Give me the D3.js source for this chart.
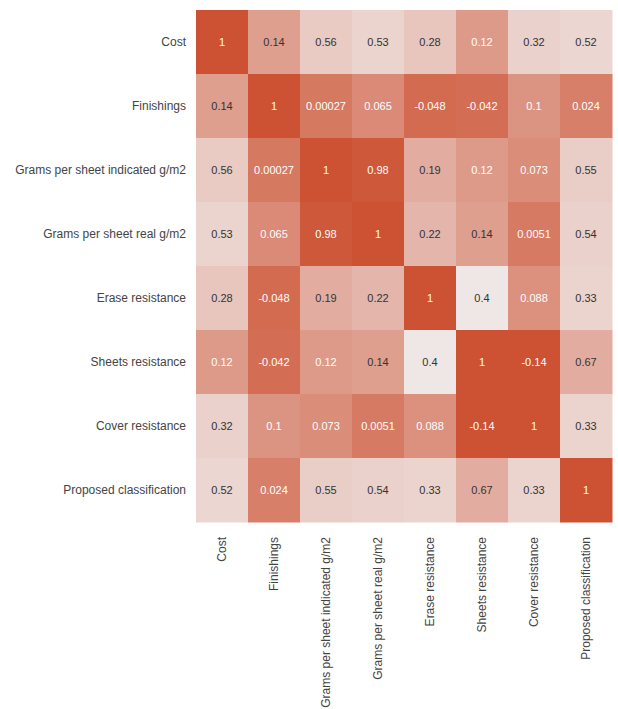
<!DOCTYPE html>
<html>
<head>
<meta charset="utf-8">
<script src="https://cdn.jsdelivr.net/npm/d3@7"></script>
<style>
  html, body { margin: 0; padding: 0; background: #ffffff; }
  svg { display: block; }
  text { font-family: "Liberation Sans", Arial, sans-serif; }
</style>
</head>
<body>
<svg id="chart" width="618" height="709"></svg>
<script>
// ---- data ----
const categories = [
  "Cost",
  "Finishings",
  "Grams per sheet indicated g/m2",
  "Grams per sheet real g/m2",
  "Erase resistance",
  "Sheets resistance",
  "Cover resistance",
  "Proposed classification"
];
const rowCost        = [1, 0.14, 0.56, 0.53, 0.28, 0.12, 0.32, 0.52];
const rowFinishings  = [0.14, 1, 0.00027, 0.065, -0.048, -0.042, 0.1, 0.024];
const rowGramsInd    = [0.56, 0.00027, 1, 0.98, 0.19, 0.12, 0.073, 0.55];
const rowGramsReal   = [0.53, 0.065, 0.98, 1, 0.22, 0.14, 0.0051, 0.54];
const rowErase       = [0.28, -0.048, 0.19, 0.22, 1, 0.4, 0.088, 0.33];
const rowSheets      = [0.12, -0.042, 0.12, 0.14, 0.4, 1, -0.14, 0.67];
const rowCover       = [0.32, 0.1, 0.073, 0.0051, 0.088, -0.14, 1, 0.33];
const rowProposed    = [0.52, 0.024, 0.55, 0.54, 0.33, 0.67, 0.33, 1];
const matrix = [rowCost, rowFinishings, rowGramsInd, rowGramsReal, rowErase, rowSheets, rowCover, rowProposed];

// ---- layout ----
const margin = { left: 196, top: 10, right: 6, bottom: 187 };
const W = 618, H = 709;
const innerW = W - margin.left - margin.right;
const innerH = H - margin.top - margin.bottom;

const svg = d3.select("#chart");
const g = svg.append("g").attr("transform", `translate(${margin.left},${margin.top})`);

const x = d3.scaleBand().domain(categories).range([0, innerW]).padding(0);
const y = d3.scaleBand().domain(categories).range([0, innerH]).padding(0);

const flat = [];
matrix.forEach((row, i) => row.forEach((v, j) => flat.push({ r: categories[i], c: categories[j], v })));

const vmin = d3.min(flat, d => d.v), vmax = d3.max(flat, d => d.v);
const center = (vmin + vmax) / 2;
const dark = "#cd5233", light = "#f1efef";
const color = d3.scaleLinear()
  .domain([vmin, center, vmax])
  .range([dark, light, dark])
  .interpolate(d3.interpolateRgb);
const dist = d3.scaleLinear().domain([vmin, center, vmax]).range([1, 0, 1]);

g.selectAll("rect.cell").data(flat).join("rect")
  .attr("class", "cell")
  .attr("x", d => x(d.c))
  .attr("y", d => y(d.r))
  .attr("width", x.bandwidth() + 0.5)
  .attr("height", y.bandwidth() + 0.5)
  .attr("fill", d => color(d.v));

const fmt = v => d3.format(".2~g")(v).replace("−", "-");

g.selectAll("text.annot").data(flat).join("text")
  .attr("class", "annot")
  .attr("x", d => x(d.c) + x.bandwidth() / 2)
  .attr("y", d => y(d.r) + y.bandwidth() / 2)
  .attr("text-anchor", "middle")
  .attr("dominant-baseline", "central")
  .attr("font-size", "11px")
  .attr("fill", d => dist(d.v) > 0.525 ? "#ffffff" : "#333333")
  .text(d => fmt(d.v));

// y axis labels
const yAxis = g.append("g").call(d3.axisLeft(y).tickSize(0).tickPadding(10));
yAxis.select(".domain").remove();
yAxis.selectAll("text").attr("font-size", "12px").attr("fill", "#444")
  .style("font-family", "'Liberation Sans', Arial, sans-serif");

// x axis labels (rotated)
const xAxis = g.append("g").attr("transform", `translate(0,${innerH})`)
  .call(d3.axisBottom(x).tickSize(0).tickPadding(0));
xAxis.select(".domain").remove();
xAxis.selectAll("text")
  .attr("font-size", "12px").attr("fill", "#444")
  .style("font-family", "'Liberation Sans', Arial, sans-serif")
  .attr("transform", "rotate(-90)")
  .attr("text-anchor", "end")
  .attr("x", -15)
  .attr("y", 0)
  .attr("dy", "0.35em");
</script>
</body>
</html>
